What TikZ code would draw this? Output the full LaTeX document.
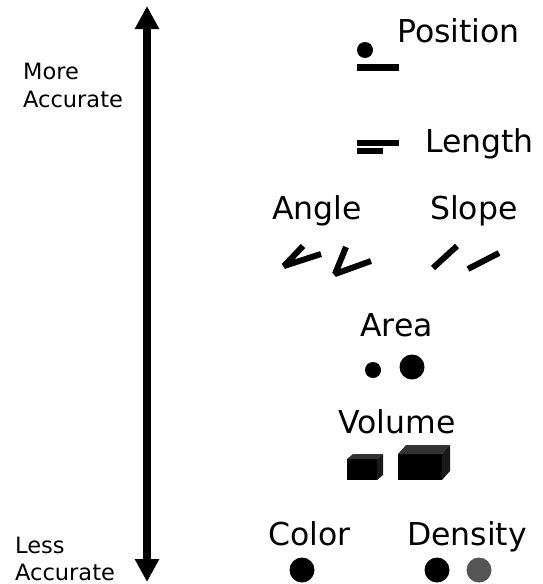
\documentclass[tikz,border=0pt]{standalone}
\usepackage{fontspec}
\setmainfont{DejaVu Sans}
\usetikzlibrary{arrows.meta}
\definecolor{dotgray}{RGB}{85,85,85}
\definecolor{topgray}{RGB}{50,50,50}
\definecolor{sidegray}{RGB}{25,25,25}
\tikzset{
    cue/.style={font=\fontsize{31.5}{36}\selectfont, anchor=base west, inner sep=0pt},
    side/.style={font=\fontsize{22.5}{27}\selectfont, anchor=base west, inner sep=0pt},
    glyph/.style={line width=6pt, line join=bevel},
    scalearrow/.style={line width=8pt, >={Triangle[width=23pt,length=23pt]}}
}
% front top-left corner, width, height, depth offset
\newcommand{\cuboid}[6]{%
    \fill[black] (#1,#2) rectangle ++(#3,#4);
    \fill[topgray] (#1,#2) -- ++(#5,-#6) -- ++(#3,0) -- ++(-#5,#6) -- cycle;
    \fill[sidegray] (#1+#3,#2) -- ++(#5,-#6) -- ++(0,#4) -- ++(-#5,#6) -- cycle;
}

\begin{document}
\begin{tikzpicture}[x=1pt, y=-1pt]
    \useasboundingbox (0,0) rectangle (543,584);

    % accuracy scale
    \coordinate (top) at (147,6);
    \coordinate (bottom) at (147,582);
    \draw[scalearrow, <->] (bottom) -- (top);
    \node[side] (more) at (23,79) {More};
    \node[side] (moreacc) at (23,107) {Accurate};
    \node[side] (less) at (15,553) {Less};
    \node[side] (lessacc) at (15,580) {Accurate};

    % position
    \node[cue] (position) at (397,42) {Position};
    \fill (365,50) circle (8);
    \fill (357,64) rectangle (399,71);

    % length
    \node[cue] (length) at (425,152) {Length};
    \fill (357,140) rectangle (399,146);
    \fill (357,148) rectangle (383,154);

    % angle and slope
    \node[cue] (angle) at (272,219) {Angle};
    \node[cue] (slope) at (430,219) {Slope};
    \draw[glyph] (303,246) -- (284,266) -- (321,254);
    \draw[glyph] (346,247) -- (335,274) -- (371,261);
    \draw[glyph] (433,268) -- (457,246);
    \draw[glyph] (468,269) -- (499,253);

    % area
    \node[cue] (area) at (360,336) {Area};
    \fill (373,370) circle (8);
    \fill (412,367) circle (12.5);

    % volume
    \node[cue] (volume) at (338,433) {Volume};
    \cuboid{347}{459}{30}{21}{6}{5}
    \cuboid{398}{454}{44}{26}{8}{9}

    % color and density
    \node[cue] (color) at (268,545) {Color};
    \node[cue] (density) at (407,545) {Density};
    \fill (302,570) circle (12.5);
    \fill (437,570) circle (12.5);
    \fill[dotgray] (479,570) circle (12.5);
\end{tikzpicture}
\end{document}
